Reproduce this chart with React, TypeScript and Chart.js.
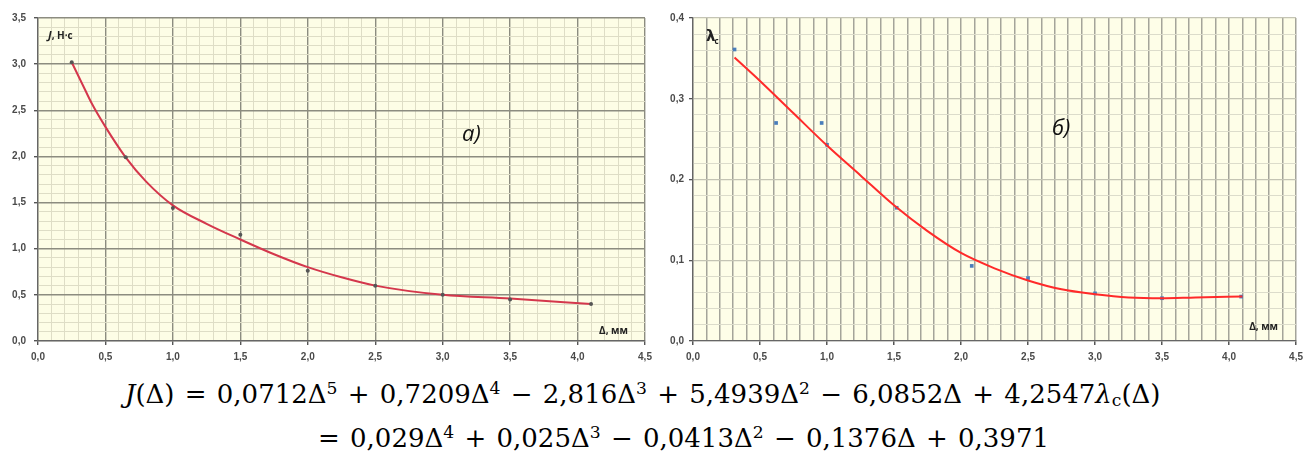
import React, { useEffect, useRef } from 'react';
import { Chart, registerables } from 'chart.js';
Chart.register(...registerables);

// ---- Chart а): J(Δ) ----
const jPointsX = [0.25, 0.65, 1.0, 1.5, 2.0, 2.5, 3.0, 3.5, 4.1];
const jPointsY = [3.02, 1.99, 1.44, 1.15, 0.76, 0.60, 0.50, 0.45, 0.40];
const jCurveX = [0.25, 0.33, 0.40, 0.50, 0.65, 0.80, 1.0, 1.25, 1.5, 1.75, 2.0, 2.25, 2.5, 3.0, 3.5, 4.1];
const jCurveY = [3.02, 2.78, 2.57, 2.32, 1.99, 1.73, 1.47, 1.27, 1.10, 0.94, 0.80, 0.69, 0.60, 0.50, 0.46, 0.40];

// ---- Chart б): λc(Δ) ----
const lamPointsX = [0.31, 0.62, 0.96, 1.0, 1.52, 2.08, 2.5, 3.0, 3.5, 4.09];
const lamPointsY = [0.361, 0.270, 0.270, 0.243, 0.165, 0.093, 0.078, 0.059, 0.053, 0.055];
const lamCurveX = [0.31, 0.5, 0.75, 1.0, 1.25, 1.5, 1.75, 2.0, 2.25, 2.5, 2.75, 3.0, 3.25, 3.5, 3.75, 4.1];
const lamCurveY = [0.351, 0.322, 0.282, 0.242, 0.205, 0.168, 0.136, 0.109, 0.090, 0.075, 0.064, 0.058, 0.054, 0.053, 0.054, 0.055];

// axis ranges and ticks
const xMin = 0, xMax = 4.5, xStep = 0.1, xLabelStep = 0.5;
const jYMin = 0, jYMax = 3.5, jYStep = 0.1, jYLabelStep = 0.5;
const lamYMin = 0, lamYMax = 0.4, lamYStep = 0.02, lamYLabelStep = 0.1;

const xTitle = 'Δ, мм';
const jTitle = ', Н·с';
const panelA = 'а)';
const panelB = 'б)';

const toXY = (xs: number[], ys: number[]) => xs.map((x, i) => ({ x, y: ys[i] }));
const isMult = (v: number, m: number) => Math.abs(v / m - Math.round(v / m)) < 1e-6;
const fmt = (v: number) => v.toFixed(1).replace('.', ',');

const tickFont = { family: "'Liberation Sans', Arial, sans-serif", size: 10, weight: 'bold' as const };
const tickColor = '#4a4a4a';

const bgPlugin = {
  id: 'bgArea',
  beforeDraw(chart: any, _a: any, opts: any) {
    const { ctx, chartArea } = chart;
    ctx.save();
    ctx.fillStyle = opts.color;
    ctx.fillRect(chartArea.left, chartArea.top, chartArea.width, chartArea.height);
    ctx.restore();
  },
};

function makeTextPlugin(kind: 'a' | 'b') {
  return {
    id: 'labels' + kind,
    afterDraw(chart: any) {
      const { ctx, chartArea } = chart;
      const { left, top, right, bottom } = chartArea;
      ctx.save();
      ctx.fillStyle = '#222';
      ctx.textBaseline = 'alphabetic';
      if (kind === 'a') {
        ctx.font = "italic bold 11px 'Open Sans', sans-serif";
        ctx.textAlign = 'left';
        ctx.fillText('J', left + 10, top + 21);
        const w = ctx.measureText('J').width;
        ctx.font = "bold 10px 'Open Sans', sans-serif";
        ctx.fillText(jTitle, left + 10 + w, top + 21);
        ctx.textAlign = 'right';
        ctx.fillText(xTitle, right - 17, bottom - 7);
        ctx.font = "italic 22px 'Open Sans', sans-serif";
        ctx.textAlign = 'left';
        ctx.fillStyle = '#111';
        ctx.fillText(panelA, left + 424, top + 123);
      } else {
        ctx.font = "bold 15px 'DejaVu Sans', sans-serif";
        ctx.textAlign = 'left';
        ctx.fillText('λ', left + 13, top + 23);
        const w = ctx.measureText('λ').width;
        ctx.font = "bold 8px 'Open Sans', sans-serif";
        ctx.fillText('c', left + 13 + w - 1, top + 26);
        ctx.font = "bold 10px 'Open Sans', sans-serif";
        ctx.textAlign = 'right';
        ctx.fillText(xTitle, right - 18, bottom - 11);
        ctx.font = "italic 22px 'Open Sans', sans-serif";
        ctx.textAlign = 'left';
        ctx.fillStyle = '#111';
        ctx.fillText(panelB, left + 359, top + 117);
      }
      ctx.restore();
    },
  };
}

function buildConfig(kind: 'a' | 'b'): any {
  const isA = kind === 'a';
  const yMin = isA ? jYMin : lamYMin;
  const yMax = isA ? jYMax : lamYMax;
  const yStep = isA ? jYStep : lamYStep;
  const yLabelStep = isA ? jYLabelStep : lamYLabelStep;

  const xGridColor = (ctx: any) => {
    const v = ctx.tick ? ctx.tick.value : 0;
    if (isA) return isMult(v, xLabelStep) ? '#8c8c80' : '#deddc6';
    return '#a4a49a';
  };
  const xGridWidth = (ctx: any) => {
    const v = ctx.tick ? ctx.tick.value : 0;
    if (isA) return isMult(v, xLabelStep) ? 1.4 : 1;
    return 1.5;
  };
  const yGridColor = (ctx: any) => {
    const v = ctx.tick ? ctx.tick.value : 0;
    if (isA) return isMult(v, yLabelStep) ? '#8c8c80' : '#deddc6';
    return isMult(v, yLabelStep) ? '#c4c4b4' : '#dcdccb';
  };
  const yGridWidth = (ctx: any) => {
    const v = ctx.tick ? ctx.tick.value : 0;
    return isMult(v, yLabelStep) ? (isA ? 1.4 : 1.3) : 1;
  };

  const points = isA ? toXY(jPointsX, jPointsY) : toXY(lamPointsX, lamPointsY);
  const curve = isA ? toXY(jCurveX, jCurveY) : toXY(lamCurveX, lamCurveY);

  return {
    type: 'scatter',
    data: {
      datasets: [
        {
          label: 'points',
          data: points,
          showLine: false,
          pointStyle: isA ? 'circle' : 'rect',
          pointRadius: isA ? 2 : 2.6,
          backgroundColor: isA ? '#555' : '#4a7ebb',
          borderColor: isA ? '#555' : '#4a7ebb',
          borderWidth: 0,
          order: isA ? 1 : 2,
        },
        {
          label: 'trend',
          data: curve,
          showLine: true,
          pointRadius: 0,
          borderColor: isA ? '#d4374c' : '#ff2a2a',
          borderWidth: 2,
          cubicInterpolationMode: 'monotone',
          fill: false,
          order: isA ? 2 : 1,
        },
      ],
    },
    options: {
      animation: false,
      responsive: false,
      maintainAspectRatio: false,
      layout: { padding: { left: 0, right: isA ? 15 : 8, top: 18, bottom: 0 } },
      plugins: {
        legend: { display: false },
        tooltip: { enabled: false },
        bgArea: { color: isA ? '#fdfde6' : '#fefee8' },
      },
      scales: {
        x: {
          type: 'linear',
          min: xMin,
          max: xMax,
          afterFit: (s: any) => { s.height = 31; },
          ticks: {
            stepSize: xStep,
            autoSkip: false,
            maxRotation: 0,
            padding: 6,
            font: tickFont,
            color: tickColor,
            callback: (v: any) => (isMult(Number(v), xLabelStep) ? fmt(Number(v)) : ''),
          },
          grid: {
            color: xGridColor,
            lineWidth: xGridWidth,
            tickLength: 4,
            tickColor: (ctx: any) => (ctx.tick && isMult(ctx.tick.value, xLabelStep) ? '#555' : 'rgba(0,0,0,0)'),
          },
          border: { color: '#666', width: 1.3 },
        },
        y: {
          type: 'linear',
          min: yMin,
          max: yMax,
          afterFit: (s: any) => { s.width = 38; },
          ticks: {
            stepSize: yStep,
            autoSkip: false,
            padding: isA ? 8 : 5,
            font: tickFont,
            color: tickColor,
            callback: (v: any) => (isMult(Number(v), yLabelStep) ? fmt(Number(v)) : ''),
          },
          grid: {
            color: yGridColor,
            lineWidth: yGridWidth,
            tickLength: 4,
            tickColor: (ctx: any) => (ctx.tick && isMult(ctx.tick.value, yLabelStep) ? '#555' : 'rgba(0,0,0,0)'),
          },
          border: { color: '#666', width: 1.3 },
        },
      },
    },
    plugins: [bgPlugin, makeTextPlugin(kind)],
  };
}

function ChartCanvas({ kind, left, width, height }: { kind: 'a' | 'b'; left: number; width: number; height: number }) {
  const ref = useRef<HTMLCanvasElement>(null);
  useEffect(() => {
    if (!ref.current) return;
    const chart = new Chart(ref.current, buildConfig(kind));
    return () => chart.destroy();
  }, [kind]);
  return (
    <div style={{ position: 'absolute', left, top: 0, width, height }}>
      <canvas ref={ref} width={width} height={height} style={{ width, height, display: 'block' }} />
    </div>
  );
}

const Sup = ({ t }: { t: string }) => (
  <sup style={{ fontSize: '0.66em', verticalAlign: '0.55em', lineHeight: 0 }}>{t}</sup>
);
const Sub = ({ t }: { t: string }) => (
  <sub style={{ fontSize: '0.66em', verticalAlign: '-0.2em', lineHeight: 0 }}>{t}</sub>
);

const formulaFont: React.CSSProperties = {
  position: 'absolute',
  fontFamily: "'DejaVu Serif', 'Liberation Serif', serif",
  fontSize: 26,
  lineHeight: '32px',
  wordSpacing: 2,
  whiteSpace: 'nowrap',
  color: '#000',
};

export default function App() {
  return (
    <div style={{ position: 'absolute', left: 0, top: 0, width: 1309, height: 457, background: '#fff', overflow: 'hidden' }}>
      <ChartCanvas kind="a" left={0} width={660} height={372} />
      <ChartCanvas kind="b" left={655} width={654} height={372} />
      <div style={{ ...formulaFont, left: 125, top: 378 }}>
        <i>J</i>(Δ) = 0,0712Δ<Sup t="5" /> + 0,7209Δ<Sup t="4" /> − 2,816Δ<Sup t="3" /> + 5,4939Δ<Sup t="2" /> − 6,0852Δ + 4,2547<i>λ</i><Sub t="c" />(Δ)
      </div>
      <div style={{ ...formulaFont, left: 318, top: 422 }}>
        = 0,029Δ<Sup t="4" /> + 0,025Δ<Sup t="3" /> − 0,0413Δ<Sup t="2" /> − 0,1376Δ + 0,3971
      </div>
    </div>
  );
}
